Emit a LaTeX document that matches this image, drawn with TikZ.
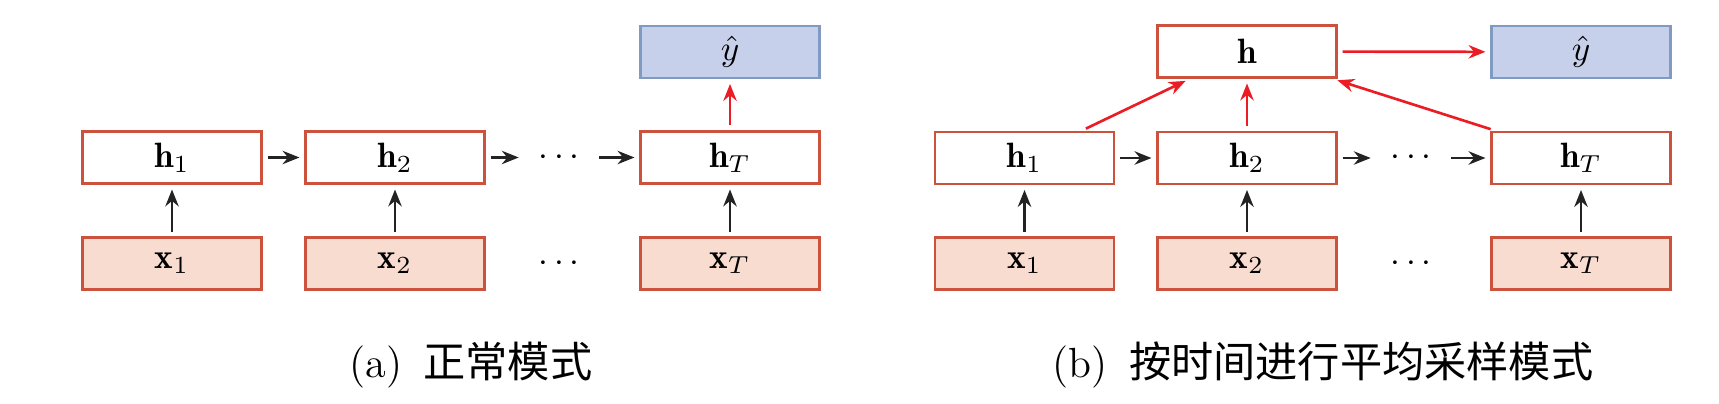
\documentclass[tikz,border=0pt]{standalone}
\usepackage{fontspec}
\newfontfamily\cjk{Noto Sans CJK SC}
\usetikzlibrary{arrows.meta}
\definecolor{boxred}{RGB}{205,82,62}
\definecolor{xfill}{RGB}{248,220,208}
\definecolor{yfill}{RGB}{198,208,234}
\definecolor{ydraw}{RGB}{128,154,194}
\definecolor{arrred}{RGB}{236,28,36}
\definecolor{arrblack}{RGB}{35,35,35}
\begin{document}
\begin{tikzpicture}[x=0.01cm,y=-0.01cm,
  box/.style={draw=boxred, line width=0.8pt, minimum width=1.79cm, minimum height=0.52cm, inner sep=0pt, font=\fontsize{10}{12}\selectfont},
  hbox/.style={box, fill=white},
  xbox/.style={box, fill=xfill},
  ybox/.style={box, draw=ydraw, fill=yfill},
  dotsnode/.style={inner sep=0pt, minimum width=0.7cm, minimum height=0.3cm, font=\fontsize{10}{12}\selectfont},
  blk/.style={draw=arrblack, line width=0.75pt, -{Stealth[length=4.8pt,width=3.8pt]}, shorten >=1.3pt, shorten <=1.3pt},
  redarr/.style={blk, draw=arrred},
  captext/.style={anchor=base, font=\fontsize{12}{14}\selectfont}]
\useasboundingbox (0,0) rectangle (1719,404);

% ---------- (a) ----------
\node[hbox] (a1) at (172,157.5) {$\mathbf{h}_1$};
\node[hbox] (a2) at (395,157.5) {$\mathbf{h}_2$};
\node[dotsnode] (ad) at (559,157.5) {$\cdots$};
\node[hbox] (aT) at (730,157.5) {$\mathbf{h}_T$};
\node[ybox] (ay) at (730,52) {$\hat{y}$};
\node[xbox] (ax1) at (172,263.5) {$\mathbf{x}_1$};
\node[xbox] (ax2) at (395,263.5) {$\mathbf{x}_2$};
\node[dotsnode] (axd) at (559,263.5) {$\cdots$};
\node[xbox] (axT) at (730,263.5) {$\mathbf{x}_T$};

\draw[blk] (a1) -- (a2);
\draw[blk] (a2) -- (ad);
\draw[blk] (ad) -- (aT);
\draw[blk] (ax1) -- (a1);
\draw[blk] (ax2) -- (a2);
\draw[blk] (axT) -- (aT);
\draw[redarr] (aT) -- (ay);

\node[captext] (capa) at (471,378) {(a)\hspace{6pt}{\cjk 正常模式}};

% ---------- (b) ----------
\node[hbox] (b1) at (1024.5,158) {$\mathbf{h}_1$};
\node[hbox] (b2) at (1247,158) {$\mathbf{h}_2$};
\node[dotsnode] (bd) at (1411,158) {$\cdots$};
\node[hbox] (bT) at (1581,158) {$\mathbf{h}_T$};
\node[hbox] (bh) at (1247,51.5) {$\mathbf{h}$};
\node[ybox] (by) at (1581,52) {$\hat{y}$};
\node[xbox] (bx1) at (1024.5,263.5) {$\mathbf{x}_1$};
\node[xbox] (bx2) at (1247,263.5) {$\mathbf{x}_2$};
\node[dotsnode] (bxd) at (1411,263.5) {$\cdots$};
\node[xbox] (bxT) at (1581,263.5) {$\mathbf{x}_T$};

\draw[blk] (b1) -- (b2);
\draw[blk] (b2) -- (bd);
\draw[blk] (bd) -- (bT);
\draw[blk] (bx1) -- (b1);
\draw[blk] (bx2) -- (b2);
\draw[blk] (bxT) -- (bT);
\draw[redarr] (b1) -- (bh);
\draw[redarr] (b2) -- (bh);
\draw[redarr] (bT) -- (bh);
\draw[redarr] (bh) -- (by);

\node[captext] (capb) at (1323,378) {(b)\hspace{6pt}{\cjk 按时间进行平均采样模式}};
\end{tikzpicture}
\end{document}
